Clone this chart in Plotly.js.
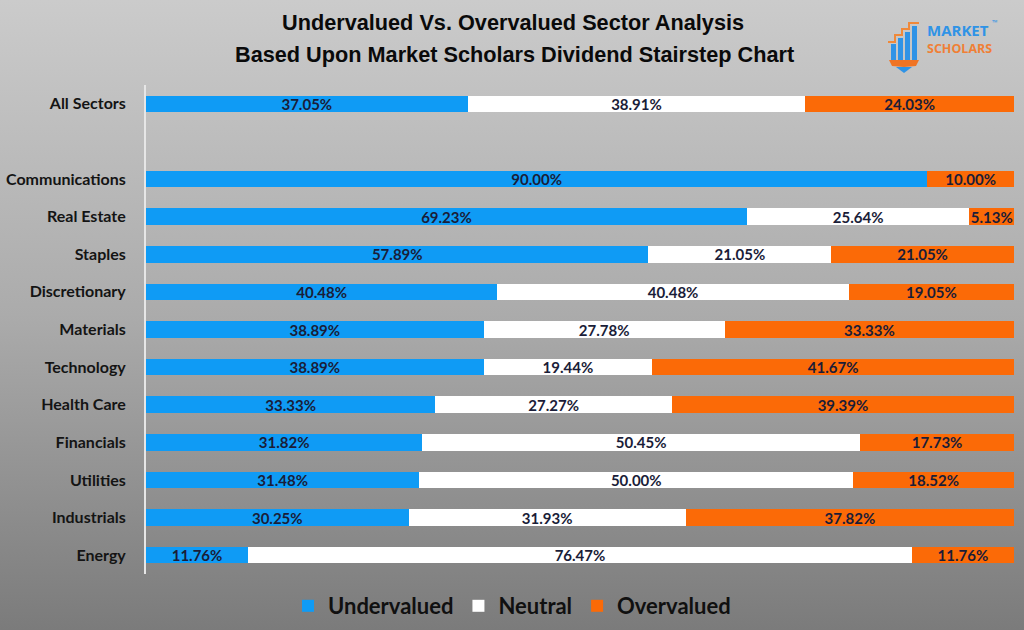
<!DOCTYPE html>
<html>
<head>
<meta charset="utf-8">
<script src="https://cdn.plot.ly/plotly-3.0.1.min.js"></script>
<style>
  html, body { margin: 0; padding: 0; }
  body { width: 1024px; height: 630px; background: linear-gradient(to bottom, #cbcbcb 0%, #ababab 50%, #7b7b7b 100%); }
  #chart { width: 1024px; height: 630px; }
</style>
</head>
<body>
<div id="chart"></div>
<script>
// ---- data ----
const categories = ["All Sectors", " ", "Communications", "Real Estate", "Staples", "Discretionary",
  "Materials", "Technology", "Health Care", "Financials", "Utilities", "Industrials", "Energy"];
const undervalued = [37.05, null, 90.00, 69.23, 57.89, 40.48, 38.89, 38.89, 33.33, 31.82, 31.48, 30.25, 11.76];
const neutral     = [38.91, null, 0,     25.64, 21.05, 40.48, 27.78, 19.44, 27.27, 50.45, 50.00, 31.93, 76.47];
const overvalued  = [24.03, null, 10.00, 5.13,  21.05, 19.05, 33.33, 41.67, 39.39, 17.73, 18.52, 37.82, 11.76];
const seriesNames = ["Undervalued", "Neutral", "Overvalued"];
const seriesColors = ["#0f9bf5", "#ffffff", "#fb6a07"];
const titleLines = ["Undervalued Vs. Overvalued Sector Analysis",
  "Based Upon Market Scholars Dividend Stairstep Chart"];

function labels(arr) {
  return arr.map(v => (v === null || v === 0) ? "" : v.toFixed(2) + "%");
}

const seriesValues = [undervalued, neutral, overvalued];
const traces = seriesValues.map((vals, i) => ({
  type: "bar",
  orientation: "h",
  name: seriesNames[i],
  y: categories,
  x: vals,
  text: labels(vals),
  textposition: "inside",
  insidetextanchor: "middle",
  textfont: { family: "Lato, 'Open Sans', sans-serif", size: 15, color: "#1a1d38", weight: "bold" },
  marker: { color: seriesColors[i], line: { width: 0 } },
  hoverinfo: "skip"
}));

// pixel -> paper helpers for positioning
const L = 146, R = 1014, T = 85, B = 574;
const px = x => (x - L) / (R - L);
const py = y => (B - y) / (B - T);

const shapes = [];
// logo: blue bars
[[891, 44, 896], [898, 38, 903], [905, 32, 910], [912, 26, 917]].forEach(b => {
  shapes.push({ type: "rect", xref: "paper", yref: "paper", x0: px(b[0]), x1: px(b[2]), y0: py(60), y1: py(b[1]),
    fillcolor: "#2f93e6", line: { width: 0 }, layer: "above" });
});
// logo: orange stairs
shapes.push({ type: "path", xref: "paper", yref: "paper", layer: "above",
  path: `M ${px(888)},${py(42)} L ${px(895)},${py(42)} L ${px(895)},${py(35)} L ${px(902)},${py(35)} L ${px(902)},${py(29)} L ${px(909)},${py(29)} L ${px(909)},${py(23)} L ${px(919)},${py(23)}`,
  line: { color: "#f0893a", width: 2 } });
// logo: orange base
shapes.push({ type: "path", xref: "paper", yref: "paper", layer: "above",
  path: `M ${px(889)},${py(60)} L ${px(919)},${py(60)} L ${px(916)},${py(66)} L ${px(904)},${py(67)} L ${px(892)},${py(66)} Z`,
  fillcolor: "#f07424", line: { width: 0 } });
shapes.push({ type: "path", xref: "paper", yref: "paper", layer: "above",
  path: `M ${px(896)},${py(67)} L ${px(912)},${py(67)} L ${px(904)},${py(73)} Z`,
  fillcolor: "#2f93e6", line: { width: 0 } });

const titleFont = { family: "'Liberation Sans Narrow', 'Arial Narrow', sans-serif", size: 21.7, color: "#0a0a0a", weight: "bold" };
const annotations = [
  { xref: "paper", yref: "paper", x: px(513), y: py(23), xanchor: "center", yanchor: "middle", showarrow: false,
    text: titleLines[0], font: titleFont },
  { xref: "paper", yref: "paper", x: px(514), y: py(55), xanchor: "center", yanchor: "middle", showarrow: false,
    text: titleLines[1], font: titleFont },
  { xref: "paper", yref: "paper", x: px(925), y: py(30), xanchor: "left", yanchor: "middle", showarrow: false,
    text: "MARKET", font: { family: "'Open Sans', sans-serif", size: 15, color: "#2f93e6", weight: "bold" } },
  { xref: "paper", yref: "paper", x: px(990), y: py(22), xanchor: "left", yanchor: "middle", showarrow: false,
    text: "™", font: { family: "'Open Sans', sans-serif", size: 7, color: "#2f93e6", weight: "bold" } },
  { xref: "paper", yref: "paper", x: px(925), y: py(48.5), xanchor: "left", yanchor: "middle", showarrow: false,
    text: "SCHOLARS", font: { family: "'Open Sans', sans-serif", size: 12.5, color: "#f07f35", weight: "bold" } }
];

const layout = {
  width: 1024, height: 630,
  paper_bgcolor: "rgba(0,0,0,0)",
  plot_bgcolor: "rgba(0,0,0,0)",
  margin: { l: L, r: 1024 - R, t: T, b: 630 - B },
  barmode: "stack",
  bargap: 0.56,
  showlegend: true,
  xaxis: {
    range: [0, 100], showgrid: false, zeroline: false, showticklabels: false, showline: false, fixedrange: true
  },
  yaxis: {
    type: "category",
    categoryorder: "array", categoryarray: categories,
    autorange: "reversed",
    showgrid: false, zeroline: false,
    showline: true, linecolor: "#e6e6e6", linewidth: 2,
    ticks: "", ticklabelstandoff: 15,
    tickfont: { family: "Lato, 'Open Sans', sans-serif", size: 16, color: "#141414", weight: "bold" }
  },
  legend: {
    orientation: "h",
    xref: "container", x: 0.5, xanchor: "center",
    yref: "container", y: 1 - 606 / 630, yanchor: "middle",
    font: { family: "Lato, 'Open Sans', sans-serif", size: 22, color: "#101010", weight: "bold" },
    itemwidth: 30,
    traceorder: "normal",
    bgcolor: "rgba(0,0,0,0)"
  },
  uniformtext: { mode: "show", minsize: 15 },
  shapes: shapes,
  annotations: annotations
};

Plotly.newPlot("chart", traces, layout, { displayModeBar: false, staticPlot: true });
</script>
</body>
</html>
